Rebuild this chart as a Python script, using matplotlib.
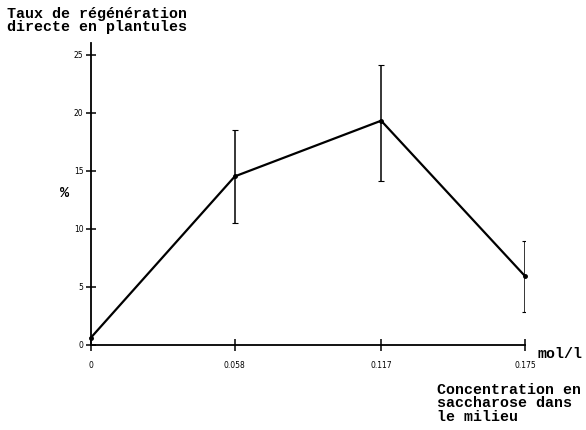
import matplotlib
matplotlib.use("Agg")
import matplotlib.pyplot as plt

# sucrose concentration (mol/l) and direct regeneration rate (%)
concentration = [0, 0.058, 0.117, 0.175]
tick_labels = ["0", "0.058", "0.117", "0.175"]
taux = [0.6, 14.5, 19.3, 5.9]
err_low = [0, 4.0, 5.2, 3.1]
err_high = [0, 4.0, 4.8, 3.0]

fig = plt.figure(figsize=(5.86, 4.3), dpi=100)
ax = fig.add_axes([0.1553, 0.1988, 0.7406, 0.7012])

ax.plot(concentration, taux, color="black", lw=1.6, marker="o", ms=2.5, clip_on=False)
ax.errorbar(concentration[1:], taux[1:], yerr=[err_low[1:], err_high[1:]],
            fmt="none", ecolor="black", elinewidth=1.1, capsize=2, capthick=0.8)

ax.set_xlim(0, 0.175)
ax.set_ylim(0, 26)
ax.spines["top"].set_visible(False)
ax.spines["right"].set_visible(False)
ax.spines["left"].set_linewidth(1.3)
ax.spines["bottom"].set_linewidth(1.3)

ax.set_xticks(concentration)
ax.set_xticklabels(tick_labels)
ax.set_yticks([0, 5, 10, 15, 20, 25])
ax.tick_params(direction="inout", length=8, width=1.1, labelsize=5.5, pad=8)
ax.tick_params(axis="y", pad=2, length=7)

mono = "Liberation Mono"
fig.text(0.012, 0.984, "Taux de régénération\ndirecte en plantules", ha="left", va="top",
         family=mono, weight="bold", fontsize=10.8, linespacing=0.95)
fig.text(0.111, 0.55, "%", ha="center", va="center", family=mono, weight="bold", fontsize=11)
fig.text(0.918, 0.177, "mol/l", ha="left", va="center", family=mono, weight="bold", fontsize=10.8)
fig.text(0.745, 0.11, "Concentration en\nsaccharose dans\nle milieu", ha="left", va="top",
         family=mono, weight="bold", fontsize=10.8, linespacing=0.95)

fig.savefig("out.png", dpi=100)
